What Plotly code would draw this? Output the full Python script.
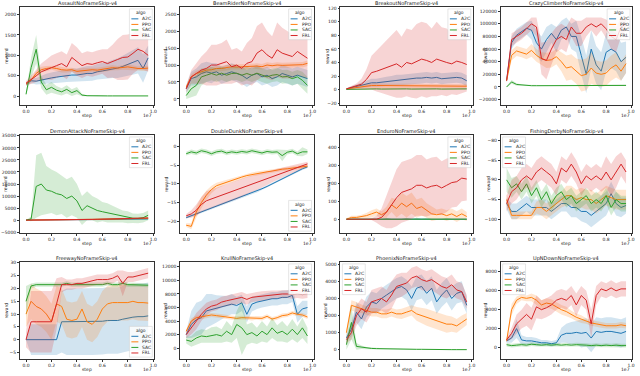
import plotly.graph_objects as go

STEPS = [0.0, 0.04, 0.08, 0.12, 0.16, 0.2, 0.24, 0.28, 0.32, 0.36, 0.4, 0.44, 0.48,
         0.52, 0.56, 0.6, 0.64, 0.68, 0.72, 0.76, 0.8, 0.84, 0.88, 0.92, 0.96]
ALGOS = ["A2C", "PPO", "SAC", "FRL"]
COLORS = ["#1f77b4", "#ff7f0e", "#2ca02c", "#d62728"]
BANDS = ["rgba(31,119,180,0.2)", "rgba(255,127,14,0.2)", "rgba(44,160,44,0.2)", "rgba(214,39,40,0.2)"]

# ---- Assault
ASSAULT_A2C = [300, 380, 370, 400, 430, 450, 470, 490, 500, 520, 520, 540, 560, 560, 600, 620, 640, 670, 690, 730, 780, 830, 880, 680, 940]
ASSAULT_A2C_SD = [40, 60, 80, 100, 120, 130, 140, 150, 150, 160, 160, 170, 180, 180, 190, 200, 200, 220, 240, 260, 280, 300, 320, 350, 300]
ASSAULT_PPO = [300, 400, 560, 650, 680, 700, 680, 650, 640, 650, 610, 620, 640, 650, 640, 660, 680, 700, 690, 710, 720, 700, 680, 680, 690]
ASSAULT_PPO_SD = [40, 50, 60, 70, 60, 50, 60, 70, 60, 50, 60, 70, 60, 50, 60, 60, 70, 60, 50, 60, 70, 60, 50, 60, 60]
ASSAULT_SAC = [50, 700, 1150, 350, 160, 220, 150, 110, 170, 90, 140, 30, 15, 10, 20, 10, 10, 10, 10, 10, 10, 10, 10, 10, 10]
ASSAULT_SAC_SD = [30, 250, 350, 150, 120, 130, 100, 90, 100, 80, 90, 30, 10, 5, 10, 5, 5, 5, 5, 5, 5, 5, 5, 5, 5]
ASSAULT_FRL = [320, 400, 500, 600, 660, 700, 750, 800, 720, 950, 850, 750, 800, 780, 820, 850, 800, 860, 900, 950, 960, 1050, 1150, 1100, 1000]
ASSAULT_FRL_SD = [50, 100, 150, 200, 250, 300, 300, 300, 300, 350, 350, 300, 300, 300, 300, 300, 350, 400, 500, 550, 550, 500, 500, 450, 400]

# ---- BeamRider
BEAM_A2C = [300, 600, 650, 750, 800, 760, 800, 700, 750, 800, 750, 700, 600, 700, 750, 650, 700, 600, 650, 750, 700, 650, 700, 650, 600]
BEAM_A2C_SD = [100, 200, 250, 300, 300, 300, 250, 250, 250, 250, 250, 250, 250, 250, 250, 250, 250, 250, 250, 250, 250, 250, 250, 250, 250]
BEAM_PPO = [350, 650, 750, 800, 850, 860, 900, 900, 920, 950, 940, 950, 950, 980, 970, 950, 1000, 980, 1000, 990, 1000, 1000, 1020, 1010, 1050]
BEAM_PPO_SD = [50, 80, 80, 80, 80, 80, 80, 80, 80, 80, 80, 80, 80, 80, 80, 80, 80, 80, 80, 80, 80, 80, 80, 80, 80]
BEAM_SAC = [100, 300, 400, 650, 700, 750, 700, 760, 700, 750, 760, 700, 750, 700, 760, 700, 650, 700, 720, 650, 660, 600, 650, 550, 400]
BEAM_SAC_SD = [100, 250, 300, 250, 200, 200, 200, 200, 200, 200, 200, 200, 200, 200, 200, 200, 200, 200, 200, 200, 200, 200, 200, 250, 250]
BEAM_FRL = [300, 650, 750, 850, 900, 1000, 1000, 1050, 1100, 950, 1000, 900, 1050, 1100, 1350, 1450, 1300, 1200, 1450, 1350, 1300, 1250, 1400, 1300, 1200]
BEAM_FRL_SD = [100, 200, 300, 400, 500, 600, 600, 600, 650, 500, 500, 500, 600, 700, 800, 800, 700, 650, 800, 750, 700, 650, 700, 650, 600]

# ---- Breakout
BREAK_A2C = [1, 3, 5, 6, 8, 10, 10, 11, 12, 13, 14, 14, 15, 16, 17, 17, 18, 17, 18, 16, 17, 18, 18, 17, 13]
BREAK_A2C_SD = [1, 2, 3, 4, 5, 6, 6, 7, 7, 7, 8, 8, 8, 8, 8, 8, 8, 8, 8, 8, 8, 8, 8, 8, 8]
BREAK_PPO = [1, 2, 4, 5, 6, 6, 6, 6, 6, 6, 6, 6, 6, 5, 6, 6, 5, 6, 6, 5, 6, 6, 5, 5, 5]
BREAK_PPO_SD = [1, 1, 2, 2, 3, 3, 3, 3, 3, 3, 3, 3, 3, 3, 3, 3, 3, 3, 3, 3, 3, 3, 3, 3, 3]
BREAK_SAC = [0.3, 0.6, 0.8, 1, 1, 0.8, 1, 0.8, 1, 0.8, 1, 0.8, 1, 0.8, 1, 0.8, 1, 0.8, 1, 0.8, 1, 0.8, 1, 0.8, 1]
BREAK_SAC_SD = [0.5, 0.5, 0.5, 0.5, 0.5, 0.5, 0.5, 0.5, 0.5, 0.5, 0.5, 0.5, 0.5, 0.5, 0.5, 0.5, 0.5, 0.5, 0.5, 0.5, 0.5, 0.5, 0.5, 0.5, 0.5]
BREAK_FRL = [1, 3, 5, 8, 15, 25, 27, 30, 33, 35, 38, 33, 40, 38, 42, 45, 43, 40, 45, 42, 40, 38, 42, 40, 37]
BREAK_FRL_SD = [1, 2, 4, 8, 15, 25, 30, 35, 40, 45, 50, 45, 50, 50, 55, 55, 55, 50, 55, 50, 50, 45, 50, 45, 40]

# ---- CrazyClimber
CRAZY_A2C = [10000, 70000, 82000, 88000, 93000, 90000, 70000, 60000, 75000, 85000, 75000, 90000, 95000, 80000, 80000, 50000, 20000, 60000, 35000, 25000, 55000, 60000, 55000, 40000, 47000]
CRAZY_A2C_SD = [3000, 10000, 10000, 10000, 10000, 15000, 20000, 20000, 20000, 15000, 20000, 15000, 15000, 20000, 25000, 30000, 30000, 30000, 30000, 30000, 30000, 30000, 30000, 30000, 25000]
CRAZY_PPO = [10000, 50000, 57000, 55000, 52000, 58000, 50000, 45000, 42000, 43000, 48000, 40000, 30000, 32000, 25000, 18000, 20000, 30000, 22000, 20000, 22000, 30000, 35000, 25000, 37000]
CRAZY_PPO_SD = [3000, 8000, 8000, 8000, 8000, 10000, 10000, 10000, 12000, 12000, 12000, 15000, 20000, 20000, 20000, 25000, 25000, 25000, 20000, 20000, 20000, 20000, 20000, 15000, 15000]
CRAZY_SAC = [0, 8000, 4000, 3000, 2500, 2000, 2000, 2000, 2000, 2000, 2500, 2000, 2000, 2000, 2500, 2000, 2000, 2500, 2000, 2000, 2500, 2000, 2500, 2500, 2500]
CRAZY_SAC_SD = [1000, 3000, 2000, 1000, 1000, 1000, 1000, 1000, 1000, 1000, 1000, 1000, 1000, 1000, 1000, 1000, 1000, 1000, 1000, 1000, 1000, 1000, 1000, 1000, 1000]
CRAZY_FRL = [10000, 75000, 80000, 85000, 92000, 100000, 95000, 45000, 42000, 60000, 75000, 80000, 75000, 95000, 85000, 85000, 95000, 100000, 95000, 100000, 92000, 80000, 75000, 95000, 100000]
CRAZY_FRL_SD = [3000, 10000, 10000, 10000, 10000, 10000, 15000, 25000, 30000, 25000, 20000, 20000, 20000, 15000, 20000, 20000, 15000, 10000, 15000, 10000, 15000, 20000, 20000, 15000, 10000]

# ---- DemonAttack
DEMON_A2C = [0, 50, 100, 100, 100, 150, 150, 150, 150, 150, 200, 200, 200, 200, 250, 250, 250, 300, 300, 300, 300, 300, 350, 400, 500]
DEMON_A2C_SD = [50, 100, 150, 200, 200, 200, 200, 200, 200, 200, 200, 200, 200, 200, 200, 200, 200, 200, 200, 200, 200, 200, 200, 200, 200]
DEMON_PPO = [0, 50, 100, 150, 150, 200, 200, 200, 250, 250, 300, 300, 300, 300, 350, 350, 400, 400, 450, 500, 500, 600, 600, 700, 800]
DEMON_PPO_SD = [50, 100, 200, 300, 300, 300, 300, 300, 300, 300, 300, 300, 300, 300, 300, 300, 300, 300, 300, 300, 300, 300, 300, 300, 300]
DEMON_SAC = [0, 500, 14000, 15000, 12500, 12000, 11000, 10500, 9000, 10000, 8000, 4000, 6000, 5000, 4000, 3500, 3000, 2500, 2000, 1500, 1200, 800, 700, 1000, 2000]
DEMON_SAC_SD = [100, 1000, 13000, 13000, 10000, 9000, 9000, 8000, 8000, 8000, 7000, 6000, 6000, 5000, 5000, 4000, 4000, 3500, 3000, 2500, 2500, 2000, 2000, 2000, 2000]
DEMON_FRL = [0, 0, 50, 100, 100, 150, 150, 200, 200, 200, 250, 300, 300, 300, 350, 400, 400, 450, 500, 500, 600, 600, 700, 800, 900]
DEMON_FRL_SD = [50, 100, 200, 300, 300, 300, 300, 300, 300, 300, 300, 300, 300, 300, 300, 300, 300, 300, 300, 300, 300, 300, 300, 300, 300]

# ---- DoubleDunk
DUNK_A2C = [-19, -18.5, -18, -17.5, -17, -16.5, -16, -15.5, -15, -14.5, -14, -13.5, -13, -12.5, -12, -11.3, -10.7, -10, -9.3, -8.6, -8, -7.3, -6.6, -6, -5.5]
DUNK_A2C_SD = [0.3, 0.3, 0.3, 0.3, 0.3, 0.3, 0.3, 0.3, 0.3, 0.3, 0.3, 0.3, 0.3, 0.3, 0.3, 0.3, 0.3, 0.3, 0.3, 0.3, 0.3, 0.3, 0.3, 0.3, 0.3]
DUNK_PPO = [-21, -21.3, -17.5, -15, -13, -11.5, -10.5, -10, -9.5, -9, -8.6, -8.2, -7.8, -7.5, -7.2, -7, -6.8, -6.6, -6.3, -6.1, -6, -5.8, -5.7, -5.5, -5.3]
DUNK_PPO_SD = [0.5, 0.8, 1.5, 1.5, 1.2, 1, 0.8, 0.7, 0.6, 0.6, 0.5, 0.5, 0.5, 0.5, 0.5, 0.5, 0.5, 0.5, 0.5, 0.5, 0.5, 0.5, 0.5, 0.5, 0.5]
DUNK_SAC = [-2, -1.5, -1.8, -1.2, -1.5, -2, -1.5, -1.3, -1.8, -1.5, -1.7, -1.4, -1.6, -1.2, -1.5, -1.8, -1.4, -1.6, -1.5, -2.5, -1.6, -1.3, -2, -1.5, -1.5]
DUNK_SAC_SD = [0.5, 0.6, 0.6, 0.6, 0.6, 0.6, 0.6, 0.6, 0.6, 0.6, 0.6, 0.6, 0.6, 0.6, 0.6, 0.6, 0.6, 0.6, 0.6, 1.5, 0.6, 0.6, 0.6, 1.2, 0.6]
DUNK_FRL = [-18.5, -18, -17, -15.5, -14.5, -14, -13.5, -13, -12.5, -12, -11.5, -11, -10.5, -10, -9.5, -9, -8.5, -8, -7.5, -7, -6.6, -6.1, -5.6, -5.2, -4.7]
DUNK_FRL_SD = [0.5, 1, 1.5, 2, 2.5, 2.5, 2.5, 2.5, 2.5, 2.5, 2.5, 2.5, 2.3, 2.2, 2, 2, 1.8, 1.6, 1.5, 1.3, 1.2, 1.0, 0.8, 0.7, 0.6]

# ---- Enduro
ENDURO_A2C = [0, 0, 0, 0, 0, 0, 0, 0, 3, 0, 0, 0, 3, 0, 2, 0, 0, 0, 0, 0, 2, 0, 0, 0, 0]
ENDURO_A2C_SD = [1, 1, 1, 1, 1, 1, 1, 1, 4, 1, 1, 1, 4, 1, 3, 1, 1, 1, 1, 1, 3, 1, 1, 1, 1]
ENDURO_PPO = [0, 10, 10, 15, 20, 30, 40, 25, 40, 80, 60, 90, 70, 90, 60, 70, 50, 30, 25, 30, 20, 30, 15, 30, 15]
ENDURO_PPO_SD = [5, 10, 10, 10, 15, 20, 20, 20, 30, 40, 50, 60, 60, 60, 50, 50, 40, 40, 30, 30, 30, 30, 30, 30, 25]
ENDURO_SAC = [0, 0, 0, 0, 0, 0, 0, 0, 4, 0, 0, 0, 4, 0, 4, 0, 4, 0, 0, 0, 4, 0, 0, 0, 0]
ENDURO_SAC_SD = [1, 1, 1, 1, 1, 1, 1, 1, 4, 1, 1, 1, 4, 1, 4, 1, 4, 1, 1, 1, 4, 1, 1, 1, 1]
ENDURO_FRL = [0, 0, 0, 0, 0, 0, 0, 10, 40, 80, 120, 150, 160, 170, 190, 190, 175, 185, 190, 175, 190, 205, 210, 230, 225]
ENDURO_FRL_SD = [0, 0, 0, 0, 0, 5, 20, 50, 90, 130, 160, 170, 170, 170, 170, 170, 160, 160, 160, 150, 150, 140, 140, 130, 120]

# ---- FishingDerby
FISH_A2C = [-96, -98, -98, -97, -96, -97, -97, -97, -97, -98, -97, -96, -96, -97, -97, -98, -98, -99, -98, -97, -96, -93.5, -96, -97, -96.5]
FISH_A2C_SD = [1.5, 2, 2, 2, 2, 2, 2, 2, 2, 2, 2, 2, 2, 2.5, 2.5, 2.5, 3, 3, 3, 3, 3, 3, 3, 2.5, 2]
FISH_PPO = [-95, -99, -99, -99, -99, -99, -97, -97, -98, -97, -96, -95, -94, -94, -95, -94.5, -95, -95, -96, -95, -94, -94.5, -95, -95, -95]
FISH_PPO_SD = [1.5, 1, 1, 1, 1, 1, 1.5, 2, 2, 2, 2, 2, 2.5, 2.5, 2.5, 2.5, 2.5, 2.5, 2.5, 2.5, 2.5, 2.5, 2.5, 2.5, 2.5]
FISH_SAC = [-90, -92, -91, -93, -91, -94, -92, -95, -93, -96, -94, -93, -95, -94, -96, -95, -94, -96, -95, -96, -94, -97, -95, -96, -96]
FISH_SAC_SD = [3, 2.5, 2, 2, 2, 2, 2, 2, 2, 2, 2, 2, 2, 2, 2, 2, 2, 2, 2, 2, 2, 2, 2, 2, 2]
FISH_FRL = [-96, -93, -92, -90, -89, -90, -88, -87, -88, -89, -91, -87, -88, -86, -88, -91, -89, -90, -89, -90, -88, -90, -88, -86, -88]
FISH_FRL_SD = [2, 3, 3, 3, 3, 3, 3, 3, 3, 3, 3, 3, 3, 3, 3, 3, 3, 3, 3, 3, 4, 4, 4, 3, 3]

# ---- Freeway
FREE_A2C = [0, 0, 0, 0, 0, 0, 0, 7, 7, 7, 7, 7, 7, 7, 7, 7.2, 7.5, 7.5, 7.5, 8, 8.5, 8.8, 9, 9, 9.3]
FREE_A2C_SD = [0, 6, 6, 6, 6, 6, 6, 12, 13, 13, 13, 13, 13, 13, 13, 13, 13, 13, 13, 13, 13, 13, 13, 13, 13]
FREE_PPO = [10, 15, 13, 12, 10, 7, 14, 13, 8, 7.5, 8, 12, 7, 6, 8, 12, 14, 14.5, 14.5, 14.5, 14.5, 15, 14.5, 14.5, 14.3]
FREE_PPO_SD = [5, 7, 7, 7, 7, 7, 7, 7, 7, 7, 7, 7, 7, 7, 7, 7, 7, 7, 7, 7, 7, 7, 7, 7, 7]
FREE_SAC = [15, 21, 21.5, 21.5, 21.5, 21.5, 21.5, 21.5, 22, 21.5, 21.5, 21.5, 21.5, 21.5, 21.5, 21.5, 22, 21.5, 21.5, 22, 21.5, 21.5, 21.5, 21.5, 21.3]
FREE_SAC_SD = [6, 1, 0.8, 0.8, 0.8, 0.8, 0.8, 0.8, 0.8, 0.8, 0.8, 0.8, 0.8, 0.8, 0.8, 0.8, 0.8, 0.8, 0.8, 0.8, 0.8, 0.8, 0.8, 0.8, 0.8]
FREE_FRL = [0, 7, 7, 7, 7, 7, 14, 21.5, 21.5, 21.5, 22, 22, 22.5, 23, 23.5, 23.5, 23.5, 24, 25, 22, 24.5, 24.5, 25, 25.5, 26]
FREE_FRL_SD = [3, 12, 12, 12, 12, 12, 10, 3, 2, 2, 2, 2, 2, 2, 2, 2, 2, 2, 2, 5, 2, 2, 2, 2, 2]

# ---- Krull
KRULL_A2C = [2000, 3500, 4200, 4500, 5500, 5700, 5800, 6000, 6200, 6500, 6300, 6700, 5000, 6500, 6800, 7000, 7200, 7300, 7300, 7500, 7500, 7800, 5000, 5800, 6000]
KRULL_A2C_SD = [500, 2000, 2500, 2500, 2500, 2300, 2000, 1800, 1500, 1500, 1300, 1200, 1200, 1100, 1000, 1000, 1000, 1000, 1000, 1000, 1000, 1000, 1200, 1200, 1000]
KRULL_PPO = [2500, 4000, 4500, 4600, 4700, 4900, 4800, 4700, 4600, 4500, 4400, 4500, 4500, 4400, 4500, 4400, 4700, 4300, 4500, 4800, 4900, 5200, 5000, 4900, 4600]
KRULL_PPO_SD = [300, 400, 300, 300, 300, 300, 300, 300, 300, 300, 300, 300, 300, 300, 300, 300, 300, 300, 300, 300, 300, 300, 300, 300, 300]
KRULL_SAC = [1200, 1000, 1500, 1800, 1700, 1900, 2000, 1800, 2500, 2000, 3500, 3000, 2000, 2300, 1800, 2500, 2000, 3000, 2200, 2500, 2000, 2800, 2000, 3000, 1800]
KRULL_SAC_SD = [500, 800, 1000, 1000, 1000, 1200, 1200, 1000, 1500, 1200, 2000, 4000, 1500, 1500, 1200, 1500, 1200, 1500, 1200, 1500, 1200, 1500, 1200, 1500, 1200]
KRULL_FRL = [2000, 3000, 4000, 5000, 5800, 6200, 6400, 6800, 7000, 7200, 7300, 7500, 7200, 7500, 7600, 7700, 7800, 7900, 7900, 8000, 8000, 7900, 8000, 7900, 8000]
KRULL_FRL_SD = [500, 1000, 1200, 1000, 900, 800, 800, 800, 800, 800, 800, 800, 800, 700, 700, 700, 700, 600, 600, 600, 600, 600, 600, 600, 600]

# ---- Phoenix
PHOE_A2C = [700, 1200, 2200, 1800, 2500, 2800, 2700, 3000, 3200, 3400, 3600, 3700, 3500, 3000, 3600, 3700, 3300, 3600, 2800, 3200, 3500, 3000, 3300, 3400, 2600]
PHOE_A2C_SD = [200, 400, 600, 600, 600, 600, 600, 600, 600, 600, 600, 600, 600, 700, 700, 700, 700, 700, 700, 700, 700, 700, 600, 600, 500]
PHOE_PPO = [1000, 2600, 2500, 2400, 2300, 2200, 2200, 2100, 2100, 2200, 2100, 2100, 2200, 2300, 2100, 2000, 1900, 1800, 1700, 1600, 1500, 1500, 1400, 1600, 1800]
PHOE_PPO_SD = [200, 300, 300, 250, 250, 250, 250, 250, 250, 250, 250, 300, 300, 300, 400, 450, 500, 500, 500, 500, 500, 450, 400, 400, 350]
PHOE_SAC = [300, 1600, 200, 150, 100, 80, 70, 60, 50, 50, 40, 40, 30, 30, 30, 30, 20, 20, 20, 20, 20, 10, 10, 10, 10]
PHOE_SAC_SD = [300, 1000, 200, 100, 60, 50, 40, 30, 30, 20, 20, 20, 20, 20, 20, 20, 20, 20, 20, 20, 20, 20, 20, 20, 20]
PHOE_FRL = [600, 1000, 2000, 2400, 2200, 2800, 2900, 3000, 2800, 3200, 3700, 3800, 3900, 4200, 4300, 4100, 4000, 4100, 3900, 3700, 3600, 3800, 3500, 3400, 2800]
PHOE_FRL_SD = [200, 400, 600, 600, 600, 700, 700, 700, 700, 800, 700, 700, 600, 600, 600, 600, 600, 600, 600, 600, 600, 600, 500, 500, 400]

# ---- UpNDown
UPND_A2C = [700, 1000, 2000, 800, 700, 700, 600, 500, 500, 400, 500, 1300, 1500, 1500, 1600, 1500, 1600, 1000, 1700, 1600, 1700, 1700, 1600, 1500, 1700]
UPND_A2C_SD = [200, 500, 1000, 500, 400, 400, 400, 300, 300, 300, 300, 800, 1000, 1200, 1200, 1500, 1500, 1500, 1500, 1500, 1500, 1500, 1500, 1500, 1500]
UPND_PPO = [700, 4000, 5000, 5300, 5200, 5300, 5000, 4500, 4700, 4600, 4300, 4000, 3800, 3500, 3200, 3000, 2800, 2600, 2500, 2400, 2300, 2300, 2300, 2400, 2300]
UPND_PPO_SD = [200, 600, 400, 300, 300, 400, 500, 500, 500, 500, 500, 500, 500, 400, 400, 400, 300, 300, 300, 300, 300, 300, 300, 300, 300]
UPND_SAC = [300, 200, 250, 300, 250, 350, 300, 250, 300, 250, 300, 250, 300, 250, 300, 300, 250, 200, 250, 200, 250, 200, 250, 200, 200]
UPND_SAC_SD = [200, 200, 200, 200, 200, 200, 200, 200, 200, 200, 200, 200, 200, 200, 200, 200, 200, 200, 200, 200, 200, 200, 200, 200, 200]
UPND_FRL = [800, 1500, 2500, 3000, 3500, 3000, 4300, 4000, 4200, 4500, 5000, 5200, 5000, 5500, 4500, 5500, 5000, 2500, 5500, 6200, 6000, 6300, 6000, 6200, 6200]
UPND_FRL_SD = [200, 600, 1000, 1000, 1200, 1200, 1200, 1000, 1000, 1000, 1000, 1000, 1000, 1000, 1200, 1000, 1000, 1500, 1000, 800, 800, 800, 800, 800, 800]

TITLES = ["AssaultNoFrameSkip-v4", "BeamRiderNoFrameSkip-v4", "BreakoutNoFrameSkip-v4", "CrazyClimberNoFrameSkip-v4",
          "DemonAttackNoFrameSkip-v4", "DoubleDunkNoFrameSkip-v4", "EnduroNoFrameSkip-v4", "FishingDerbyNoFrameSkip-v4",
          "FreewayNoFrameSkip-v4", "KrullNoFrameSkip-v4", "PhoenixNoFrameSkip-v4", "UpNDownNoFrameSkip-v4"]
MEANS = [
    [ASSAULT_A2C, ASSAULT_PPO, ASSAULT_SAC, ASSAULT_FRL],
    [BEAM_A2C, BEAM_PPO, BEAM_SAC, BEAM_FRL],
    [BREAK_A2C, BREAK_PPO, BREAK_SAC, BREAK_FRL],
    [CRAZY_A2C, CRAZY_PPO, CRAZY_SAC, CRAZY_FRL],
    [DEMON_A2C, DEMON_PPO, DEMON_SAC, DEMON_FRL],
    [DUNK_A2C, DUNK_PPO, DUNK_SAC, DUNK_FRL],
    [ENDURO_A2C, ENDURO_PPO, ENDURO_SAC, ENDURO_FRL],
    [FISH_A2C, FISH_PPO, FISH_SAC, FISH_FRL],
    [FREE_A2C, FREE_PPO, FREE_SAC, FREE_FRL],
    [KRULL_A2C, KRULL_PPO, KRULL_SAC, KRULL_FRL],
    [PHOE_A2C, PHOE_PPO, PHOE_SAC, PHOE_FRL],
    [UPND_A2C, UPND_PPO, UPND_SAC, UPND_FRL],
]
SPREADS = [
    [ASSAULT_A2C_SD, ASSAULT_PPO_SD, ASSAULT_SAC_SD, ASSAULT_FRL_SD],
    [BEAM_A2C_SD, BEAM_PPO_SD, BEAM_SAC_SD, BEAM_FRL_SD],
    [BREAK_A2C_SD, BREAK_PPO_SD, BREAK_SAC_SD, BREAK_FRL_SD],
    [CRAZY_A2C_SD, CRAZY_PPO_SD, CRAZY_SAC_SD, CRAZY_FRL_SD],
    [DEMON_A2C_SD, DEMON_PPO_SD, DEMON_SAC_SD, DEMON_FRL_SD],
    [DUNK_A2C_SD, DUNK_PPO_SD, DUNK_SAC_SD, DUNK_FRL_SD],
    [ENDURO_A2C_SD, ENDURO_PPO_SD, ENDURO_SAC_SD, ENDURO_FRL_SD],
    [FISH_A2C_SD, FISH_PPO_SD, FISH_SAC_SD, FISH_FRL_SD],
    [FREE_A2C_SD, FREE_PPO_SD, FREE_SAC_SD, FREE_FRL_SD],
    [KRULL_A2C_SD, KRULL_PPO_SD, KRULL_SAC_SD, KRULL_FRL_SD],
    [PHOE_A2C_SD, PHOE_PPO_SD, PHOE_SAC_SD, PHOE_FRL_SD],
    [UPND_A2C_SD, UPND_PPO_SD, UPND_SAC_SD, UPND_FRL_SD],
]
Y_RANGES = [(-216, 2184), (-183, 2712), (-23, 122), (-28800, 126700),
            (-5400, 35400), (-23.1, 3), (-78, 472), (-103.5, -78.6),
            (-7.6, 30.4), (-1616, 12735), (-543, 5136), (-1228, 9053)]
Y_DTICK = [500, 500, 20, 20000, 5000, 5, 100, 5, 5, 2000, 1000, 2000]
LEGEND_POS = ["tr", "tr", "tr", "tr", "tr", "br", "tr", "tl", "br", "tr", "tl", "tl"]

# layout in pixels (640 x 376)
W, H = 640, 376
COL_X = [(20, 155), (181, 315), (342, 475), (503, 635)]
ROW_Y = [(6, 105), (135, 234), (263, 361)]
YLAB_X = [6, 166, 329, 487, 5, 167, 330, 490, 7, 166, 327, 488]
FONT = "DejaVu Sans"

def px(x):
    return x / W

def py(y):
    return 1 - y / H

fig = go.Figure()
shapes = []
annotations = []

for i, title in enumerate(TITLES):
    r, c = divmod(i, 4)
    x0, x1 = COL_X[c]
    y0, y1 = ROW_Y[r]
    n = i + 1
    xa = "x" if n == 1 else f"x{n}"
    ya = "y" if n == 1 else f"y{n}"
    for k, algo in enumerate(ALGOS):
        m = MEANS[i][k]
        s = SPREADS[i][k]
        hi = [a + b for a, b in zip(m, s)]
        lo = [a - b for a, b in zip(m, s)]
        fig.add_trace(go.Scatter(x=STEPS + STEPS[::-1], y=hi + lo[::-1], fill="toself",
                                 fillcolor=BANDS[k], line=dict(width=0), mode="lines",
                                 hoverinfo="skip", showlegend=False, xaxis=xa, yaxis=ya))
        fig.add_trace(go.Scatter(x=STEPS, y=m, mode="lines", name=algo,
                                 line=dict(color=COLORS[k], width=1), showlegend=False,
                                 xaxis=xa, yaxis=ya))
    axis_common = dict(showgrid=False, zeroline=False, showline=True, mirror=True,
                       linecolor="#333", linewidth=0.7, ticks="outside", ticklen=2,
                       tickwidth=0.6, tickcolor="#333",
                       tickfont=dict(size=4.5, family=FONT, color="#222"))
    fig.update_layout(**{
        ("xaxis" if n == 1 else f"xaxis{n}"): dict(
            domain=[px(x0), px(x1)], anchor=ya, range=[-0.048, 1.008],
            tickvals=[0, 0.2, 0.4, 0.6, 0.8, 1.0], tickformat=".1f", **axis_common),
        ("yaxis" if n == 1 else f"yaxis{n}"): dict(
            domain=[py(y1), py(y0)], anchor=xa, range=list(Y_RANGES[i]),
            tickmode="linear", tick0=0, dtick=Y_DTICK[i], tickformat="d", **axis_common),
    })
    # title and axis labels
    annotations.append(dict(text=title, x=px((x0 + x1) / 2), y=py(y0 - 3), xref="paper", yref="paper",
                            showarrow=False, font=dict(size=5, family=FONT, color="#222"),
                            xanchor="center", yanchor="middle"))
    annotations.append(dict(text="step", x=px((x0 + x1) / 2), y=py(y1 + 10), xref="paper", yref="paper",
                            showarrow=False, font=dict(size=4.5, family=FONT, color="#222"),
                            xanchor="center", yanchor="middle"))
    annotations.append(dict(text="1e7", x=px(x1), y=py(y1 + 10), xref="paper", yref="paper",
                            showarrow=False, font=dict(size=4.5, family=FONT, color="#222"),
                            xanchor="right", yanchor="middle"))
    annotations.append(dict(text="reward", x=px(YLAB_X[i]), y=py((y0 + y1) / 2), xref="paper", yref="paper",
                            showarrow=False, textangle=-90, font=dict(size=4.5, family=FONT, color="#222"),
                            xanchor="center", yanchor="middle"))
    # legend box drawn by hand, matplotlib style
    bw, bh = 23, 31
    pos = LEGEND_POS[i]
    bx = x1 - 2 - bw if pos[1] == "r" else x0 + 2
    by = y0 + 2 if pos[0] == "t" else y1 - 2 - bh
    shapes.append(dict(type="rect", xref="paper", yref="paper", x0=px(bx), x1=px(bx + bw),
                       y0=py(by + bh), y1=py(by), fillcolor="rgba(255,255,255,0.8)",
                       line=dict(color="#cccccc", width=0.5)))
    annotations.append(dict(text="algo", x=px(bx + bw / 2), y=py(by + 4), xref="paper", yref="paper",
                            showarrow=False, font=dict(size=4.5, family=FONT, color="#222"),
                            xanchor="center", yanchor="middle"))
    for k, algo in enumerate(ALGOS):
        ly = by + 10 + k * 5.6
        shapes.append(dict(type="line", xref="paper", yref="paper", x0=px(bx + 2), x1=px(bx + 9),
                           y0=py(ly), y1=py(ly), line=dict(color=COLORS[k], width=1)))
        annotations.append(dict(text=algo, x=px(bx + 11), y=py(ly), xref="paper", yref="paper",
                                showarrow=False, font=dict(size=4.5, family=FONT, color="#222"),
                                xanchor="left", yanchor="middle"))

fig.update_layout(width=W, height=H, margin=dict(l=0, r=0, t=0, b=0),
                  paper_bgcolor="white", plot_bgcolor="white", showlegend=False,
                  shapes=shapes, annotations=annotations)
# drop the browser's default 8px body margin so the figure fills the window exactly
fig.write_html("out.html", config={"displayModeBar": False},
               post_script="document.body.style.margin='0';document.body.style.overflow='hidden';")
